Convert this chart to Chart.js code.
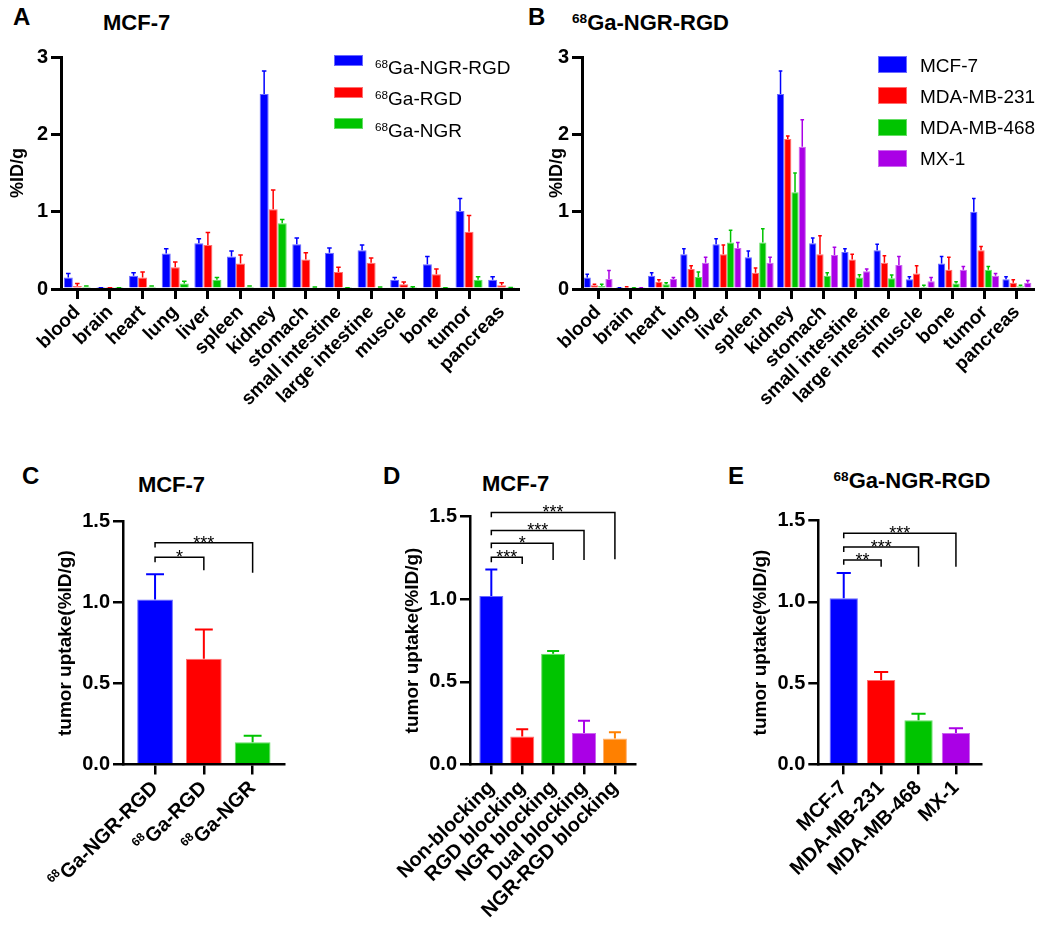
<!DOCTYPE html>
<html>
<head>
<meta charset="utf-8">
<script src="https://cdn.jsdelivr.net/npm/chart.js@4.4.0/dist/chart.umd.min.js"></script>
<style>
  body { margin: 0; background: #fff; font-family: 'Liberation Sans', Arial, sans-serif; }
  #fig { position: relative; width: 1050px; height: 928px; overflow: hidden; background: #fff; }
  #fig canvas { position: absolute; }
  .txt { position: absolute; color: #000; white-space: nowrap; line-height: 1; }
  .letter { font-size: 24px; font-weight: bold; }
  .title { font-size: 22px; font-weight: bold; }
  .leg { font-size: 19px; }
  .sw { position: absolute; }
  sup { font-size: 0.62em; vertical-align: 0.55em; line-height: 0; }
</style>
</head>
<body>
<div id="fig">
  <canvas id="chartA" width="530" height="400" style="left:0;top:40px"></canvas>
  <canvas id="chartB" width="530" height="400" style="left:520px;top:40px"></canvas>
  <canvas id="chartC" width="300" height="420" style="left:0;top:500px"></canvas>
  <canvas id="chartD" width="340" height="420" style="left:350px;top:500px"></canvas>
  <canvas id="chartE" width="360" height="420" style="left:690px;top:500px"></canvas>
</div>
<script>
const organs = ['blood', 'brain', 'heart', 'lung', 'liver', 'spleen', 'kidney', 'stomach',
  'small intestine', 'large intestine', 'muscle', 'bone', 'tumor', 'pancreas'];

// A: MCF-7, three tracers
const seriesA = ['⁶⁸Ga-NGR-RGD', '⁶⁸Ga-RGD', '⁶⁸Ga-NGR'];
const aNgrRgd = [0.15, 0.01, 0.17, 0.46, 0.59, 0.42, 2.52, 0.58, 0.47, 0.50, 0.12, 0.32, 1.01, 0.12];
const aNgrRgdErr = [0.05, 0.005, 0.04, 0.06, 0.06, 0.07, 0.30, 0.08, 0.06, 0.07, 0.03, 0.10, 0.16, 0.04];
const aRgd = [0.04, 0.01, 0.15, 0.28, 0.57, 0.33, 1.03, 0.38, 0.22, 0.34, 0.06, 0.19, 0.74, 0.05];
const aRgdErr = [0.03, 0.005, 0.07, 0.07, 0.16, 0.11, 0.25, 0.09, 0.06, 0.06, 0.03, 0.07, 0.21, 0.03];
const aNgr = [0.03, 0.01, 0.03, 0.07, 0.12, 0.03, 0.85, 0.02, 0.01, 0.02, 0.01, 0.01, 0.12, 0.01];
const aNgrErr = [0.01, 0.005, 0.01, 0.03, 0.03, 0.01, 0.05, 0.005, 0.005, 0.005, 0.02, 0.005, 0.04, 0.01];

// B: 68Ga-NGR-RGD, four cell lines
const seriesB = ['MCF-7', 'MDA-MB-231', 'MDA-MB-468', 'MX-1'];
const bMcf7 = [0.15, 0.01, 0.17, 0.45, 0.58, 0.41, 2.52, 0.59, 0.48, 0.50, 0.125, 0.33, 1.00, 0.125];
const bMcf7Err = [0.04, 0.005, 0.04, 0.07, 0.07, 0.08, 0.30, 0.07, 0.04, 0.08, 0.035, 0.09, 0.17, 0.035];
const b231 = [0.05, 0.02, 0.095, 0.26, 0.45, 0.21, 1.94, 0.45, 0.38, 0.34, 0.20, 0.25, 0.50, 0.08];
const b231Err = [0.01, 0.01, 0.025, 0.04, 0.12, 0.06, 0.04, 0.24, 0.07, 0.09, 0.10, 0.16, 0.05, 0.04];
const b468 = [0.04, 0.01, 0.06, 0.155, 0.60, 0.60, 1.25, 0.17, 0.15, 0.14, 0.03, 0.07, 0.25, 0.035];
const b468Err = [0.02, 0.005, 0.02, 0.065, 0.16, 0.18, 0.25, 0.04, 0.035, 0.04, 0.02, 0.025, 0.04, 0.015];
const bMx1 = [0.13, 0.01, 0.13, 0.34, 0.53, 0.34, 1.84, 0.44, 0.23, 0.31, 0.10, 0.25, 0.17, 0.08];
const bMx1Err = [0.11, 0.005, 0.02, 0.07, 0.07, 0.07, 0.35, 0.10, 0.03, 0.11, 0.05, 0.04, 0.03, 0.03];

// C: tumor uptake by tracer
const cLabels = ['⁶⁸Ga-NGR-RGD', '⁶⁸Ga-RGD', '⁶⁸Ga-NGR'];
const cValues = [1.02, 0.654, 0.138];
const cErr = [0.155, 0.18, 0.04];
const cBrackets = [[0, 1, 1.28, 1.20, '*'], [0, 2, 1.37, 1.185, '***']];

// D: blocking study
const dLabels = ['Non-blocking', 'RGD blocking', 'NGR blocking', 'Dual blocking', 'NGR-RGD blocking'];
const dValues = [1.02, 0.168, 0.67, 0.19, 0.157];
const dErr = [0.16, 0.044, 0.016, 0.074, 0.037];
const dBrackets = [[0, 1, 1.254, 1.213, '***'], [0, 2, 1.339, 1.238, '*'], [0, 3, 1.417, 1.238, '***'], [0, 4, 1.526, 1.242, '***']];

// E: tumor uptake by cell line
const eLabels = ['MCF-7', 'MDA-MB-231', 'MDA-MB-468', 'MX-1'];
const eValues = [1.022, 0.519, 0.271, 0.193];
const eErr = [0.156, 0.049, 0.041, 0.029];
const eBrackets = [[0, 1, 1.258, 1.217, '**'], [0, 2, 1.338, 1.217, '***'], [0, 3, 1.422, 1.217, '***']];

const BLUE = '#0000ff';
const RED = '#ff0000';
const GREEN = '#00c400';
const PURPLE = '#aa00e6';
const ORANGE = '#ff8000';
const EDGE = { [BLUE]: '#6b6bff', [RED]: '#ff7070', [GREEN]: '#66dd66', [PURPLE]: '#cc66f0', [ORANGE]: '#ffb070' };

const FONT = "'Liberation Sans', Arial, sans-serif";
const SUP = '⁶⁸';
Chart.defaults.font.family = FONT;
Chart.defaults.color = '#000';

const bracketSets = { chartC: cBrackets, chartD: dBrackets, chartE: eBrackets };

const errorBars = {
  id: 'errorBars',
  afterDatasetsDraw(chart) {
    const { ctx } = chart;
    const yScale = chart.scales.y;
    chart.data.datasets.forEach((ds, i) => {
      if (!ds.errors) return;
      chart.getDatasetMeta(i).data.forEach((bar, j) => {
        const raw = ds.data[j];
        const val = typeof raw === 'object' ? raw.y : raw;
        const top = yScale.getPixelForValue(val + ds.errors[j]);
        const color = Array.isArray(ds.backgroundColor) ? ds.backgroundColor[j] : ds.backgroundColor;
        const half = bar.width * 0.25;
        ctx.save();
        ctx.strokeStyle = color;
        ctx.lineWidth = ds.errWidth;
        ctx.beginPath();
        ctx.moveTo(bar.x, bar.y);
        ctx.lineTo(bar.x, top);
        ctx.moveTo(bar.x - half, top);
        ctx.lineTo(bar.x + half, top);
        ctx.stroke();
        ctx.restore();
      });
    });
  }
};

const brackets = {
  id: 'brackets',
  afterDraw(chart) {
    const items = bracketSets[chart.canvas.id];
    if (!items) return;
    const { ctx } = chart;
    const { x, y } = chart.scales;
    ctx.save();
    ctx.strokeStyle = '#000';
    ctx.fillStyle = '#000';
    ctx.lineWidth = 1.5;
    ctx.font = `18px ${FONT}`;
    ctx.textAlign = 'center';
    ctx.textBaseline = 'alphabetic';
    items.forEach(([from, to, level, drop, stars]) => {
      const x1 = x.getPixelForValue(from);
      const x2 = x.getPixelForValue(to);
      const yl = y.getPixelForValue(level);
      ctx.beginPath();
      ctx.moveTo(x1, y.getPixelForValue(level - 0.03));
      ctx.lineTo(x1, yl);
      ctx.lineTo(x2, yl);
      ctx.lineTo(x2, y.getPixelForValue(drop));
      ctx.stroke();
      ctx.fillText(stars, (x1 + x2) / 2, yl + 6);
    });
    ctx.restore();
  }
};

// rotated x labels carrying a "68" superscript are drawn here, same geometry as Chart.js uses
const supLabels = {
  id: 'supLabels',
  afterDraw(chart) {
    const labels = chart.$supLabels;
    if (!labels) return;
    const { ctx } = chart;
    const xs = chart.scales.x;
    const size = chart.$supFont;
    const lh = size * 1.2;
    const c = Math.SQRT1_2;
    ctx.save();
    ctx.fillStyle = '#000';
    labels.forEach((label, i) => {
      if (!label.startsWith(SUP)) return;
      const main = label.slice(SUP.length);
      const px = xs.getPixelForValue(i) - (lh / 2) * c;
      const py = xs.top + 10 + 2;
      ctx.save();
      ctx.translate(px, py);
      ctx.rotate(-Math.PI / 4);
      ctx.textAlign = 'right';
      ctx.textBaseline = 'middle';
      ctx.font = `bold ${size}px ${FONT}`;
      const w = ctx.measureText(main).width;
      ctx.fillText(main, 0, lh / 2);
      ctx.font = `bold ${Math.round(size * 0.62)}px ${FONT}`;
      ctx.fillText('68', -w - 0.5, lh / 2 - size * 0.36);
      ctx.restore();
    });
    ctx.restore();
  }
};

function makeDataset(label, data, errors, color, errWidth) {
  const edge = Array.isArray(color) ? color.map((c) => EDGE[c]) : EDGE[color];
  return {
    label,
    data,
    errors,
    errWidth,
    backgroundColor: color,
    borderColor: edge,
    borderWidth: 1,
    borderSkipped: 'bottom'
  };
}

function buildChart(id, cfg) {
  const lw = cfg.lw;
  const hasSup = cfg.labels.some((l) => l.startsWith(SUP));
  const xScale = {
    type: cfg.linear ? 'linear' : 'category',
    offset: !cfg.linear,
    grid: { display: true, drawOnChartArea: false, drawTicks: true, tickLength: 10, color: '#000', lineWidth: lw, offset: false, z: 1 },
    border: { display: true, color: '#000', width: lw, z: 1 },
    ticks: {
      color: '#000',
      font: { size: cfg.xFont, weight: 'bold' },
      minRotation: 45,
      maxRotation: 45,
      autoSkip: false,
      padding: 2
    },
    afterFit: (s) => { s.height = cfg.xHeight; }
  };
  if (cfg.linear) {
    xScale.min = cfg.xMin;
    xScale.max = cfg.xMax;
    xScale.afterBuildTicks = (s) => { s.ticks = cfg.labels.map((_, i) => ({ value: i })); };
    xScale.ticks.callback = (v) => (hasSup ? '' : cfg.labels[v]);
  }
  const chart = new Chart(document.getElementById(id), {
    type: 'bar',
    data: { labels: cfg.linear ? undefined : cfg.labels, datasets: cfg.datasets },
    options: {
      responsive: false,
      maintainAspectRatio: false,
      animation: false,
      events: [],
      layout: { padding: cfg.padding },
      datasets: { bar: { categoryPercentage: cfg.catPct, barPercentage: cfg.barPct } },
      plugins: { legend: { display: false }, tooltip: { enabled: false } },
      scales: {
        x: xScale,
        y: {
          min: 0,
          max: cfg.yMax,
          grid: { display: true, drawOnChartArea: false, drawTicks: true, tickLength: 10, color: '#000', lineWidth: lw, z: 1 },
          border: { display: true, color: '#000', width: lw, z: 1 },
          ticks: {
            stepSize: cfg.yStep,
            color: '#000',
            font: { size: cfg.yFont, weight: 'bold' },
            padding: 3,
            callback: cfg.yFmt
          },
          title: {
            display: true,
            text: cfg.yTitle,
            color: '#000',
            font: { size: cfg.yTitleFont, weight: 'bold' },
            padding: { top: cfg.yTitlePad, bottom: 0 }
          },
          afterFit: (s) => { s.width = cfg.yWidth; }
        }
      }
    },
    plugins: [errorBars, brackets, supLabels]
  });
  if (hasSup) {
    chart.$supLabels = cfg.labels;
    chart.$supFont = cfg.xFont;
    chart.draw();
  }
  return chart;
}

buildChart('chartA', {
  labels: organs,
  datasets: [
    makeDataset(seriesA[0], aNgrRgd, aNgrRgdErr, BLUE, 1.5),
    makeDataset(seriesA[1], aRgd, aRgdErr, RED, 1.5),
    makeDataset(seriesA[2], aNgr, aNgrErr, GREEN, 1.5)
  ],
  lw: 3, catPct: 0.83, barPct: 1,
  padding: { left: 0, top: 17, right: 12, bottom: 0 },
  yWidth: 61, xHeight: 151, yMax: 3, yStep: 1, yFmt: (v) => v,
  xFont: 19, yFont: 20, yTitle: '%ID/g', yTitleFont: 18, yTitlePad: 7
});

buildChart('chartB', {
  labels: organs,
  datasets: [
    makeDataset(seriesB[0], bMcf7, bMcf7Err, BLUE, 1.5),
    makeDataset(seriesB[1], b231, b231Err, RED, 1.5),
    makeDataset(seriesB[2], b468, b468Err, GREEN, 1.5),
    makeDataset(seriesB[3], bMx1, bMx1Err, PURPLE, 1.5)
  ],
  lw: 3, catPct: 0.9, barPct: 1,
  padding: { left: 0, top: 17, right: 17, bottom: 0 },
  yWidth: 62, xHeight: 151, yMax: 3, yStep: 1, yFmt: (v) => v,
  xFont: 19, yFont: 20, yTitle: '%ID/g', yTitleFont: 18, yTitlePad: 26
});

const toXY = (vals) => vals.map((v, i) => ({ x: i, y: v }));

buildChart('chartC', {
  linear: true, labels: cLabels, xMin: -0.657, xMax: 2.643,
  datasets: [makeDataset('C', toXY(cValues), cErr, [BLUE, RED, GREEN], 2)],
  lw: 2.5, catPct: 1, barPct: 0.733,
  padding: { left: 0, top: 21.7, right: 16, bottom: 0 },
  yWidth: 123, xHeight: 155.5, yMax: 1.5, yStep: 0.5, yFmt: (v) => v.toFixed(1),
  xFont: 20, yFont: 20, yTitle: 'tumor uptake(%ID/g)', yTitleFont: 19, yTitlePad: 54
});

buildChart('chartD', {
  linear: true, labels: dLabels, xMin: -0.69, xMax: 4.65,
  datasets: [makeDataset('D', toXY(dValues), dErr, [BLUE, RED, GREEN, PURPLE, ORANGE], 2)],
  lw: 2.5, catPct: 1, barPct: 0.777,
  padding: { left: 0, top: 16.7, right: 55, bottom: 0 },
  yWidth: 120, xHeight: 155.7, yMax: 1.5, yStep: 0.5, yFmt: (v) => v.toFixed(1),
  xFont: 20, yFont: 20, yTitle: 'tumor uptake(%ID/g)', yTitleFont: 19, yTitlePad: 51
});

buildChart('chartE', {
  linear: true, labels: eLabels, xMin: -0.68, xMax: 3.67,
  datasets: [makeDataset('E', toXY(eValues), eErr, [BLUE, RED, GREEN, PURPLE], 2)],
  lw: 2.5, catPct: 1, barPct: 0.757,
  padding: { left: 0, top: 20.7, right: 69, bottom: 0 },
  yWidth: 128.3, xHeight: 155.7, yMax: 1.5, yStep: 0.5, yFmt: (v) => v.toFixed(1),
  xFont: 20, yFont: 20, yTitle: 'tumor uptake(%ID/g)', yTitleFont: 19, yTitlePad: 59
});

// text overlays: panel letters, titles, legends
const fig = document.getElementById('fig');
const supHtml = (s) => s.replace(SUP, '<sup>68</sup>');

function addText(cls, html, left, top, extra) {
  const el = document.createElement('div');
  el.className = 'txt ' + cls;
  el.innerHTML = html;
  el.style.left = left + 'px';
  el.style.top = top + 'px';
  if (extra) Object.assign(el.style, extra);
  fig.appendChild(el);
}

addText('letter', 'A', 13, 5);
addText('letter', 'B', 528, 5);
addText('letter', 'C', 22, 464);
addText('letter', 'D', 383, 464);
addText('letter', 'E', 728, 464);

addText('title', 'MCF-7', 103, 12);
addText('title', supHtml('⁶⁸Ga-NGR-RGD'), 572, 12);
addText('title', 'MCF-7', 71.5, 474, { width: '200px', textAlign: 'center' });
addText('title', 'MCF-7', 415.6, 473, { width: '200px', textAlign: 'center' });
addText('title', supHtml('⁶⁸Ga-NGR-RGD'), 812, 470, { width: '200px', textAlign: 'center' });

function addLegend(names, colors, swX, swY, swW, swH, textX, textY, pitch) {
  names.forEach((name, i) => {
    const sw = document.createElement('div');
    sw.className = 'sw';
    Object.assign(sw.style, {
      left: swX + 'px', top: (swY + i * pitch) + 'px', width: swW + 'px', height: swH + 'px',
      background: colors[i], boxShadow: `inset 0 0 0 1px ${EDGE[colors[i]]}`
    });
    fig.appendChild(sw);
    addText('leg', supHtml(name), textX, textY + i * pitch);
  });
}

addLegend(seriesA, [BLUE, RED, GREEN], 334, 55, 29, 11, 375, 57.5, 31.5);
addLegend(seriesB, [BLUE, RED, GREEN, PURPLE], 878, 56, 29, 17, 920, 55.5, 31.3);
</script>
</body>
</html>
